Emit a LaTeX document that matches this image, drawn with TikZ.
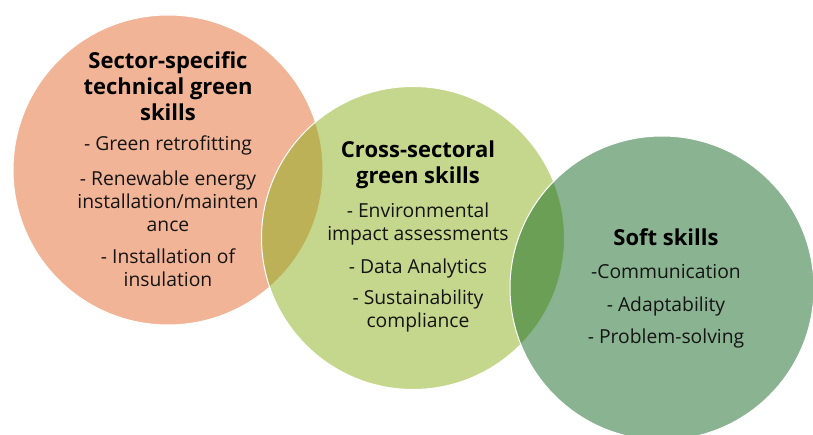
\documentclass[tikz,border=0pt]{standalone}
\usepackage{fontspec}
\setmainfont{Open Sans}
\begin{document}
\begin{tikzpicture}[x=1pt,y=-1pt,
  venn/.style={circle, inner sep=0pt, minimum size=#1, draw=white, line width=1pt,
    fill opacity=0.5, draw opacity=1},
  heading/.style={align=center, inner sep=0pt, text=black,
    font=\fontsize{22}{26}\selectfont\bfseries},
  item/.style={align=center, inner sep=0pt, text=black!92,
    font=\fontsize{19.3}{23}\selectfont}]
  \definecolor{sectorfill}{RGB}{229,105,47}
  \definecolor{crossfill}{RGB}{137,175,25}
  \definecolor{softfill}{RGB}{21,105,35}

  \useasboundingbox (0,0) rectangle (813,435);
  \clip (0,0) rectangle (813,435);

  % the three overlapping skill circles
  \node[venn=310pt, fill=sectorfill] (sector) at (168,170) {};
  \node[venn=303pt, fill=crossfill]  (cross)  at (413,238) {};
  \node[venn=304pt, fill=softfill]   (soft)   at (662,288) {};

  % sector-specific technical green skills
  \node[heading] (sectorTitle) at (168,86) {Sector-specific\\technical green\\skills};
  \node[item] (sectorA) at (168,145) {- Green retrofitting};
  \node[item] (sectorB) at (168,201) {- Renewable energy\\installation/mainten\\ance};
  \node[item] (sectorC) at (168,267.5) {- Installation of\\insulation};

  % cross-sectoral green skills
  \node[heading] (crossTitle) at (418,165) {Cross-sectoral\\green skills};
  \node[item] (crossA) at (418,224) {- Environmental\\impact assessments};
  \node[item] (crossB) at (418,268) {- Data Analytics};
  \node[item] (crossC) at (418,311) {- Sustainability\\compliance};

  % soft skills
  \node[heading] (softTitle) at (666,237) {Soft skills};
  \node[item] (softA) at (666,272) {-Communication};
  \node[item] (softB) at (666,306) {- Adaptability};
  \node[item] (softC) at (666,338) {- Problem-solving};
\end{tikzpicture}
\end{document}
